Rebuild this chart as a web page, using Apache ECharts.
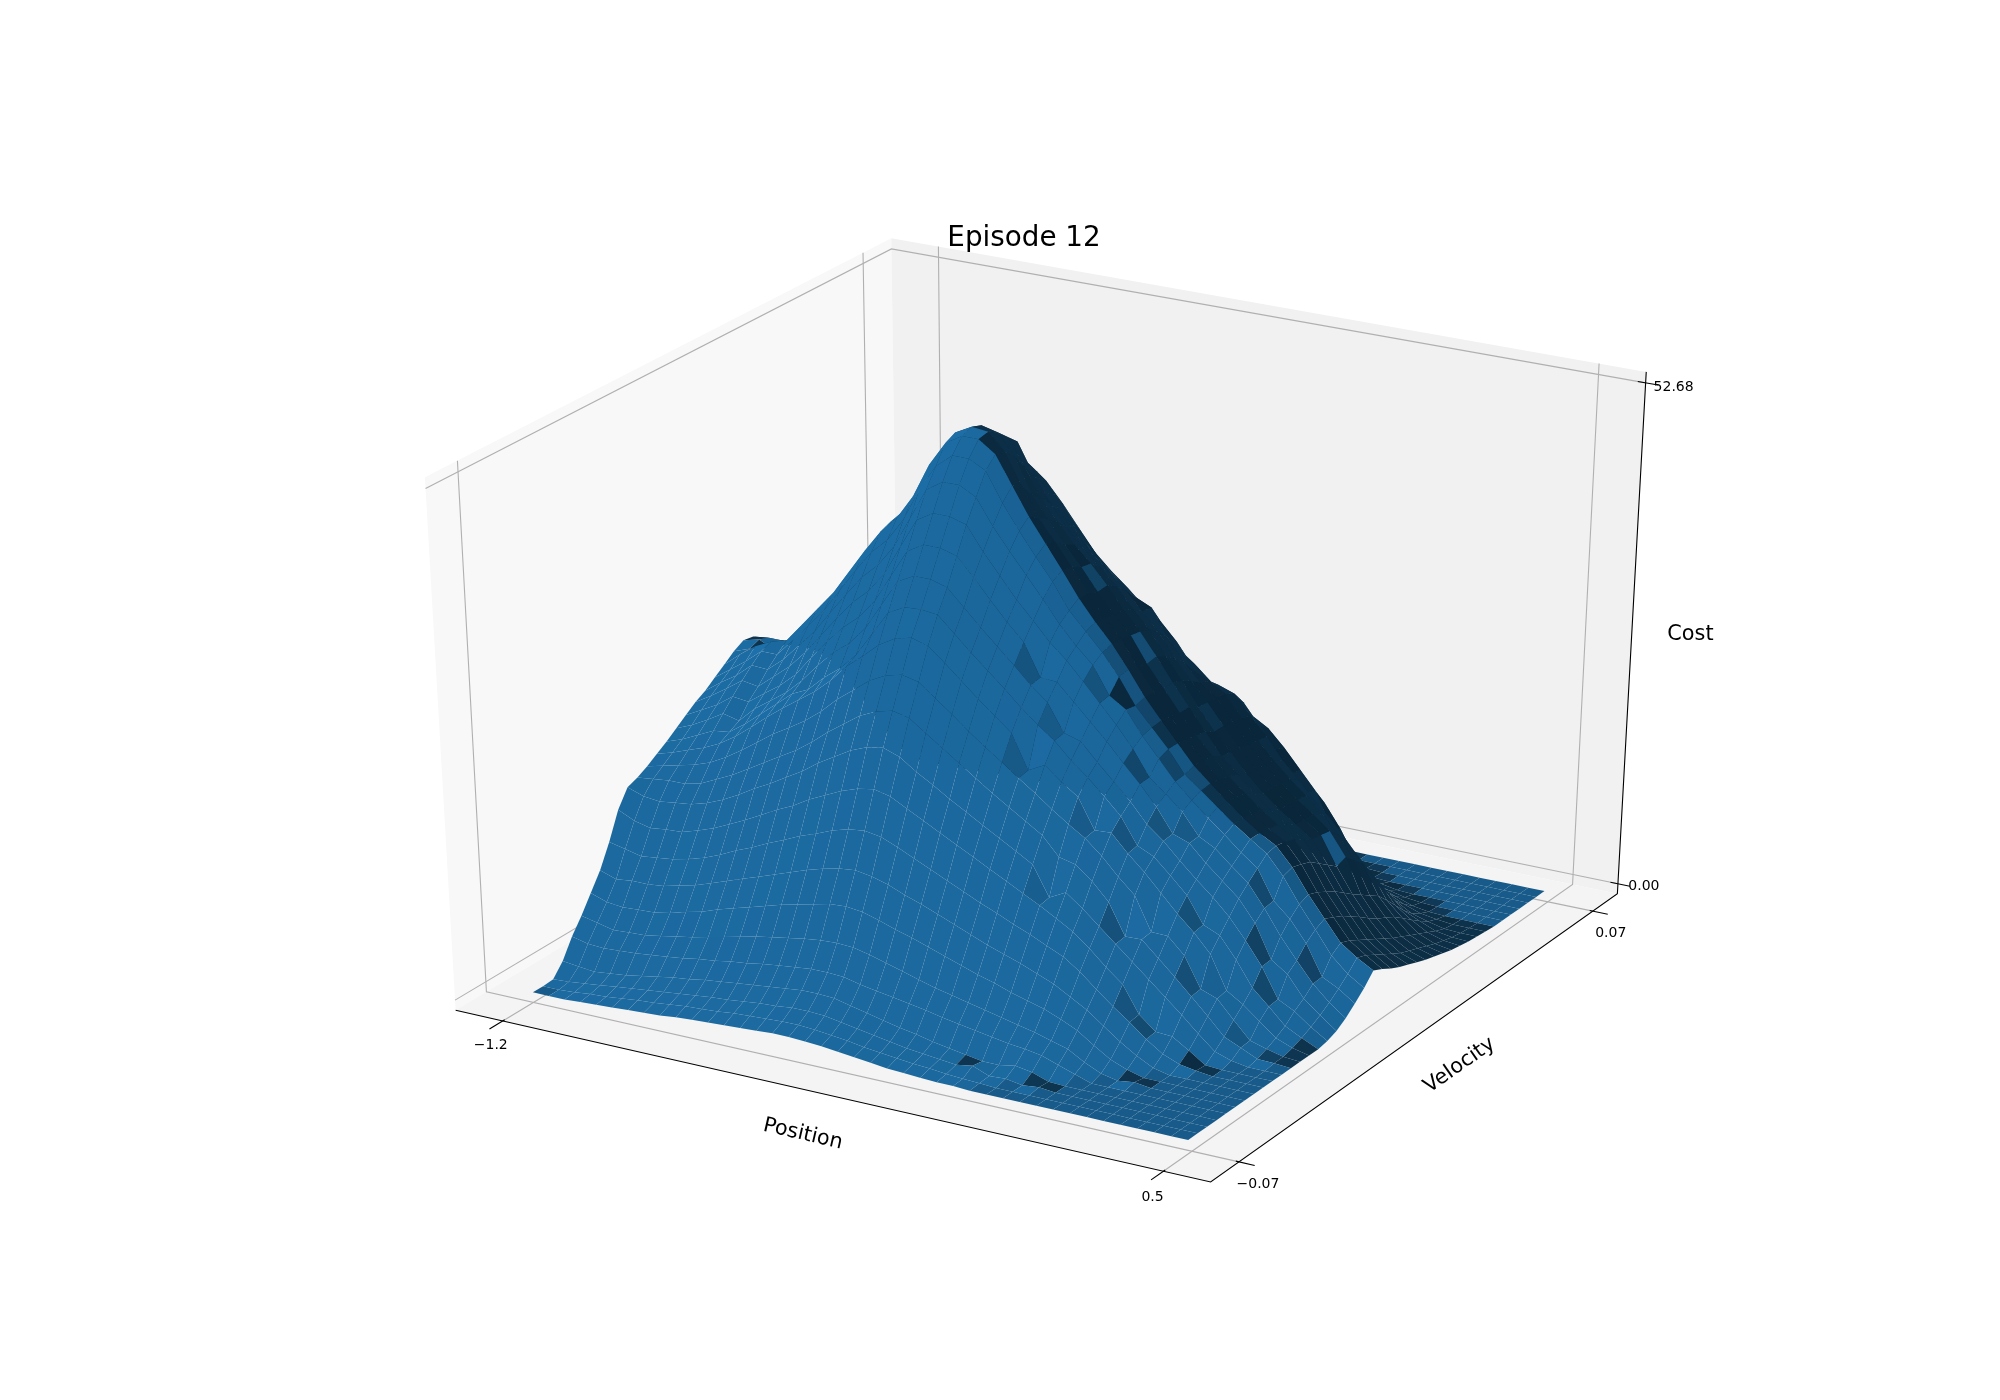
<!DOCTYPE HTML>
<html lang="en">

<head>
	<meta charset="utf-8">
	<title>Episode 12</title>
	<style>
		html, body { margin: 0; background: #fff; }
		#main { width: 2000px; height: 1400px; }
	</style>
</head>

<body>
	<div id="main"></div>
	<script src="https://cdn.jsdelivr.net/npm/echarts@6/dist/echarts.min.js"></script>
	<script>
		var TITLE = 'Episode 12';
		var POSITION_RANGE = [-1.2, 0.5];
		var VELOCITY_RANGE = [-0.07, 0.07];
		var COST_RANGE = [0, 52.68];
		var POSITION_TICKS = ['\u22121.2', '0.5'];
		var VELOCITY_TICKS = ['\u22120.07', '0.07'];
		var COST_TICKS = ['0.00', '52.68'];

		// cost, one row per velocity step, one column per position step
		var COST = [
			[0,0,0,.1,.2,.3,.4,.5,.6,.8,.9,1,1.1,1.2,1.3,1.4,1.4,1.3,1.2,1,.8,.6,.4,.3,.2,.1,.1,0,0,0,0,0,0,0,0,0,0,0,0,0,0],
			[0,0,.1,.3,.4,.6,.8,.9,1.1,1.3,1.4,1.5,1.7,1.8,1.9,2,2,1.9,1.7,1.5,1.2,1,.8,.6,.5,.3,.2,.1,0,0,0,0,0,0,0,0,0,0,0,0,0],
			[.1,.2,.4,.6,.8,1,1.2,1.4,1.6,1.8,2,2.1,2.3,2.5,2.6,2.8,2.8,2.7,2.4,2.1,1.8,1.5,1.2,1,.8,.6,.9,.2,.3,0,.2,0,0,0,0,0,0,0,0,0,0],
			[1.4,1.2,1,1.2,1.4,1.7,2,2.3,2.5,2.8,3,3.2,3.4,3.6,3.8,4,4,3.9,3.5,3.1,2.7,2.3,2,1.6,1.3,1,.7,.7,1,.7,.1,0,0,0,0,0,0,0,0,0,0],
			[3.4,3,2.9,3,3.1,3.3,3.5,3.7,4,4.2,4.5,4.7,5,5.2,5.4,5.6,5.6,5.5,5.1,4.8,4.5,4.2,3.9,3.5,3.2,2.9,2.6,2.3,2.1,1.8,1.2,.6,0,0,0,0,0,0,0,0,0],
			[5,4.6,4.2,4.3,4.4,4.7,5,5.3,5.7,6.1,6.5,6.9,7.2,7.5,7.8,8,8.1,8,7.6,7.1,6.6,6.1,5.6,5.2,4.8,4.4,4,3.6,3.2,2.7,2.2,1.2,.4,0,.25,0,0,0,0,0,0],
			[6.8,6.2,6,6.1,6.2,6.5,7,7.4,8,8.5,9,9.5,10,10.4,10.8,11.2,11.3,11.1,10.6,10,9.5,8.9,8.3,7.7,7.1,6.6,6,5.5,5,4.3,3.5,2.3,1.2,.5,0,0,0,0,0,0,0],
			[8.6,8,8.2,8.2,8.4,8.8,9.2,9.8,10.4,11,11.6,12.2,12.8,13.4,13.9,14.3,14.5,14.2,13.7,13,12.4,11.7,11,10.3,9.6,9,8.4,7.7,7,6,5,3.7,2.4,1.3,.4,0,0,0,0,0,0],
			[11,10.6,10.2,10.4,10.6,11,11.5,12.2,13,13.7,14.5,15.2,16,16.6,17.3,17.8,18,17.7,17,16.2,15.4,14.6,13.8,13,12.3,11.5,10.8,10,9.2,8,6.5,5.1,3.8,2.4,1.2,.5,.2,0,0,0,0],
			[13.8,13,12.6,12.8,12.9,13.4,14,14.8,15.6,16.5,17.4,18.2,19.2,20,20.8,21.4,21.7,21.3,20.4,19.5,18.6,17.7,16.8,15.9,15,14.1,13.2,12.2,11.2,9.8,8.2,6.8,3.95,2.5,2.4,1.3,.1,0,0,0,0],
			[15.6,15,14.8,15,15.2,15.7,16.4,17.3,18.3,19.2,20.2,21.2,22.4,23.4,24.4,25.1,25.4,24.8,23.6,22.6,21.5,20.5,19.5,18.5,17.5,16.5,13.4,14.3,13,11.5,10,8.5,7,5.5,4,2.4,.9,.3,0,0,0],
			[16,16.2,16.4,16.4,16.8,17.6,18.4,19.4,20.4,21.4,22.4,23.6,25,26.2,27.4,28.2,28.6,28.2,27,25.8,24.6,23.4,22.2,21.1,20,18.9,17,16.6,15.2,13.4,10.15,10.2,8.6,7,5.3,3.6,1.8,1,.2,.15,0],
			[16.6,17,17.4,17.8,18.4,19.3,20.4,21.6,22.8,23.8,24.9,26.2,27.8,29.1,30.4,31.3,31.7,31.3,30,28.7,27.3,26,24.8,23.5,22.3,21,19.8,18.7,17.2,15.4,13.8,10.35,10.3,8.6,5.45,4.8,2.9,1.1,.6,.15,0],
			[17.3,17.8,18.4,19,19.8,20.9,22.2,23.6,24.9,26.1,27.3,28.8,30.6,32,33.5,34.5,34.9,34.4,33,31.5,30,28.6,27.2,23.7,24.6,23.2,22,18.9,19,17.2,15.6,13.8,12,10.4,8.5,5,3.9,2.5,1.1,.4,0],
			[18,18.6,19.4,20.2,20.4,21.6,23,24.4,25.8,26.6,28.2,29.5,31.2,33.7,36.2,37.1,37.2,37,35.4,33.8,32.3,30.8,29.2,27.8,26.5,24.8,23.4,21.8,20.1,17.4,16.6,15,13.3,10.55,9.8,7.6,5,3.4,1.7,.8,0],
			[18.8,19.5,20.4,21.4,21,22.6,23.8,25,26.6,28.5,30.2,31.5,33.4,36.1,38.8,39.7,39.7,39.2,37.5,35.8,34.2,32.6,30.9,29.5,26.7,26.2,24.4,22.7,21,19,17.6,15.9,14.3,12.8,11.1,9,6.6,3.5,2.6,1.3,.2],
			[19.6,20.5,21.4,22.6,22.4,23.6,24.8,26.3,28.4,30.4,32.2,33.6,35.6,38.5,41.3,42.3,42.3,41.8,40,38,36.1,34.4,31.1,31,29.3,27.6,25.9,24,22.2,20.2,17.75,17.1,15.4,13.9,12.4,10.2,6.7,5.5,3.3,1.9,.6],
			[20.4,21.4,22.5,23.7,23.4,24.8,26.2,28,30.1,32.2,34.2,35.7,37.8,40.9,43.9,44.9,44.9,44.4,42,39.9,37.8,36,34.1,32.6,30.8,28.9,27,24.9,22.3,20.9,19.4,17.2,16.3,14.8,13.4,11.1,8.5,6.3,4.2,2.6,1.3],
			[21,22.2,23.3,24.7,24.6,26,27.8,29.6,31.9,34.1,36.2,37.8,40,43.2,46.4,47.5,47.5,46.6,44,41.8,39.7,37.6,35.4,33.5,31.9,29.1,28,25.6,23.6,21.6,20,18.5,17.1,15.6,14.3,11.25,9.7,7.5,4.3,3.4,2.2],
			[21.8,23,24.2,25.6,25.6,27.4,29.3,31.2,33.6,36,38.2,39.8,42.2,45.6,48.2,49.6,49.6,48.7,45.8,43.3,41,38.8,36.2,34.4,32.6,30.4,27.8,25.9,24,21.7,20.4,19,17.6,16.4,15.2,13.2,10.6,8.3,5.9,4.3,3.2],
			[22.6,24,25.2,26,26.5,28.5,30.5,32.5,35,37.5,39.8,41.5,44,47.5,50,51,51,49.8,47,44.2,41.8,39.4,36.9,34.8,32.9,30.6,28.1,26,24,22,20.5,19,17.6,16.4,15.4,13.5,11,8.8,6.6,5.4,4.4],
			[23.4,24,24.4,25,26,28.8,30.8,32.8,35.4,37.9,40.2,41.9,44.4,48,50.5,51.4,51.2,49.5,46.4,43.5,41.4,39.2,36.8,34.6,32.8,30.2,28,25.8,23.8,21.9,20.3,18.8,17.4,16.2,15.2,13.2,10.6,8.3,6.2,5,3.9],
			[24,24.4,23.6,25,26,28.5,30.5,32.5,35,37.5,39.8,41.5,44,47.5,50,51,50.6,48.5,45,42.8,40.6,38.6,36.4,34.4,32.6,30,27.8,25.6,23.6,21.8,20,18.6,17.2,16,14.8,12.8,10,7.8,5.6,4.4,3.3],
			[23.8,24,24,24.6,25.4,27.8,29.7,31.7,34.1,36.6,38.8,40.5,42.9,46.3,49,49.9,49.6,47,44,42,40,38.4,36.5,34.3,32.4,30.2,27.8,25.6,23.4,21.2,19.6,18,16.6,15.4,14.2,12,9.4,7.1,5,3.8,2.8],
			[23,23.2,23,23.8,24.6,26.9,28.8,30.7,33,35.4,37.6,39.2,41.6,44.9,48.2,49,48.6,45.5,43,40.8,39,37.4,35.8,33.8,32,29.6,27.4,25,22.8,21,19,17.4,16,14.8,13.6,11.2,8.6,6.4,4.4,3.2,2.4],
			[21.8,22.4,22.4,23.2,24.2,26.4,28,30,32,34.4,36.6,38.6,41,43.4,45.4,47,46,44,41.5,39.5,37.8,36.4,34.8,33,31.2,28.8,26.8,24.9,22.8,20.8,18.9,17.3,15.9,14.7,13.4,10.4,7.8,5.6,3.8,2.6,2],
			[21.2,21.4,21.8,22.6,23.8,25.8,27.5,29.4,31.6,33.6,35.4,37.4,39.8,41.9,43.9,45.2,44.5,42.6,40,38,36.4,35,33.6,32.8,30,27.8,26,24.8,22.6,20.6,18.8,17.2,15.8,14.6,13.2,10.8,7.1,4.9,3.2,2.2,1.6],
			[20.6,20.6,21,22,23.2,24.9,26.6,28.3,30.4,32.3,34,36,38.2,40,41.9,43.2,43,41,38.5,36.6,35,33.6,32,30.8,29,26.4,25.6,24.6,22.4,20.4,18.6,17,15.6,14,12.2,9.8,6.4,4.4,2.7,1.8,1.3],
			[20,19.6,20,20.9,22.1,23.7,25.3,27,29.1,30.8,32.4,34.3,36.3,38.1,39.9,41,41,39,36.5,34.8,33.2,31.8,30.2,28.8,27,25,24.6,24,22,20.2,18,16.3,14.4,12.8,10.8,8.8,5.7,3.8,2.2,1.4,1],
			[19,18.6,19,19.8,21,22.5,24,25.6,27.6,29.2,30.8,32.5,34.5,36.2,37.9,39,39,37,34.8,33,31.6,30,28.2,26.6,25.5,24,23.4,22.5,20.4,18.2,16,14.4,12.6,11,9,7.2,4.6,3,1.7,1,.7],
			[18,17.4,17.8,18.5,19.6,21,22.4,23.9,25.8,27.3,28.7,30.4,32.2,33.7,35.4,36.4,36.6,34.5,32.5,30.8,29.4,27.6,25.8,24,23.5,22.2,21.6,20.5,19.5,17.8,15.8,13.8,10.2,8.6,7,5.5,3.4,2.2,1.2,.7,.5],
			[16.5,15.9,16.1,16.9,17.9,19.2,20.5,21.9,23.6,25,26.2,27.8,29.4,30.8,32.3,33.3,33.7,31.5,29.5,28,26.5,24.8,23,21.2,21,19.8,19.8,18,17.5,15.6,13.8,12,9.6,6.6,5.2,3.8,2.2,1.4,.7,.4,.3],
			[15,14.2,14.4,15,16,17.1,18.2,19.5,21,22.2,23.4,24.7,26.2,27.5,28.8,29.6,30,28,26,24.4,23,21.4,19.6,18,17.6,16.6,16.4,15.5,14.5,13,11.2,9.4,7.2,4.5,3.4,2.2,1.2,.7,.3,.2,.2],
			[13,11.7,11.8,12.4,13.2,14.1,15,16.1,17.3,18.3,19.3,20.4,21.6,22.7,23.7,24.4,24.8,23.5,21.8,20.5,19.2,17.8,16.2,14.8,13.4,12,13,11.2,11,10,8.6,7,5,2.9,2,1.2,.6,.3,.1,.1,.1],
			[11,9.2,9.3,9.8,10.4,11.1,11.8,12.7,13.6,14.4,15.2,16.1,17,17.8,18.7,19.2,19.5,18.5,17.2,16,15,13.8,12.4,11.2,10,8.8,9.5,8,7.4,6.4,5.6,4.4,3,1.6,1,.4,.1,0,0,0,0],
			[9,7,7,7.4,7.8,8.4,9,9.6,10.3,10.9,11.5,12.2,12.9,13.5,14.1,14.6,14.7,14,13,12,11,10,8.9,7.9,7,6,7,5.5,4.2,3.2,2.4,1.7,1.1,.7,.3,.1,0,0,0,0,0],
			[7,5,5,5.3,5.6,6,6.4,6.8,7.4,7.8,8.2,8.7,9.2,9.6,10.1,10.4,10.5,10,9,8.3,7.6,6.8,6,5.2,4.5,3.8,4.4,3.2,2.4,1.6,1.1,.7,.4,.1,0,0,0,0,0,0,0],
			[5,3.2,3.3,3.4,3.6,3.9,4.2,4.4,4.8,5.1,5.3,5.6,6,6.3,6.6,6.8,6.8,6.3,5.8,5.2,4.7,4.1,3.4,2.9,2.4,1.9,2.2,1.6,1.1,.7,.3,.1,0,0,0,0,0,0,0,0,0],
			[3,2,2,2.1,2.2,2.4,2.6,2.7,2.9,3.1,3.3,3.5,3.7,3.9,4,4.2,4.2,3.9,3.5,3,2.7,2.3,1.9,1.5,1.2,.9,.7,.5,.3,.2,.1,0,0,0,0,0,0,0,0,0,0],
			[1.5,1,1,1,1.1,1.2,1.3,1.4,1.5,1.6,1.6,1.7,1.8,1.9,2,2.1,2.1,1.8,1.7,1.5,1.3,1.1,.9,.7,.5,.4,.2,.1,.1,0,0,0,0,0,0,0,0,0,0,0,0],
			[.5,.3,.3,.4,.4,.5,.5,.5,.6,.6,.6,.7,.7,.7,.8,.8,.8,.7,.6,.5,.4,.3,.2,.1,.1,0,0,0,0,0,0,0,0,0,0,0,0,0,0,0,0]
		];

		var rows = COST.length;
		var cols = COST[0].length;
		var dx = (POSITION_RANGE[1] - POSITION_RANGE[0]) / (cols - 1);
		var dy = (VELOCITY_RANGE[1] - VELOCITY_RANGE[0]) / (rows - 1);
		var LIGHT = [-0.6667, -0.6667, 0.3333];
		var BASE = [31, 119, 180];

		// box coords 0..1, same view as elev 30, azim -60, dist 10
		function depth(p) {
			return 10 - (0.433013 * (p[0] - 0.5) - 0.75 * (p[1] - 0.5) + 0.5 * (p[2] - 0.5));
		}
		function project(p) {
			var a = p[0] - 0.5, b = p[1] - 0.5, c = p[2] - 0.5;
			var d = depth(p);
			return [
				1045.5 + 8715 * (0.866025 * a + 0.5 * b) / d,
				694 - 6085 * (-0.25 * a + 0.433013 * b + 0.866025 * c) / d
			];
		}
		function boxX(i) { return 0.065 + 0.87 * i / (cols - 1); }
		function boxY(j) { return 0.065 + 0.87 * j / (rows - 1); }
		function boxZ(z) { return 0.02 + 0.96 * z / COST_RANGE[1]; }
		function vertex(i, j) { return [boxX(i), boxY(j), boxZ(COST[j][i] || 0)]; }

		function cellColor(i, j) {
			var zx = ((COST[j][i + 1] || 0) - (COST[j][i] || 0)) / dx;
			var zy = ((COST[j + 1][i + 1] || 0) - (COST[j][i + 1] || 0)) / dy;
			var len = Math.sqrt(zx * zx + zy * zy + 1);
			var shade = (-zx * LIGHT[0] - zy * LIGHT[1] + LIGHT[2]) / len;
			var f = 0.3 + 0.7 * (shade + 1) / 2;
			return 'rgb(' + BASE.map(function (c) { return Math.round(c * f); }).join(',') + ')';
		}

		var cells = [];
		for (var j = 0; j < rows - 1; j++) {
			for (var i = 0; i < cols - 1; i++) {
				var dep = (depth(vertex(i, j)) + depth(vertex(i + 1, j)) + depth(vertex(i + 1, j + 1)) + depth(vertex(i, j + 1))) / 4;
				cells.push({ value: [i, j], dep: dep });
			}
		}
		cells.sort(function (a, b) { return b.dep - a.dep; });

		var PANES = [
			{ fill: '#f8f8f8', pts: [[0, 0, 0], [0, 1, 0], [0, 1, 1], [0, 0, 1]] },
			{ fill: '#f1f1f1', pts: [[0, 1, 0], [1, 1, 0], [1, 1, 1], [0, 1, 1]] },
			{ fill: '#f4f4f4', pts: [[0, 0, 0], [1, 0, 0], [1, 1, 0], [0, 1, 0]] }
		];

		var GRID = '#b0b0b0';
		var LINES = [];
		[0.065, 0.94].forEach(function (t) {
			LINES.push({ color: GRID, pts: [[t, 0, 0], [t, 1, 0], [t, 1, 1]] });
			LINES.push({ color: '#000', pts: [[t, 0.004, 0], [t, -0.028, 0]] });
		});
		[0.065, 0.935].forEach(function (t) {
			LINES.push({ color: GRID, pts: [[1, t, 0], [0, t, 0], [0, t, 1]] });
			LINES.push({ color: '#000', pts: [[0.996, t, 0], [1.02, t, 0]] });
		});
		[0.02, 0.98].forEach(function (t) {
			LINES.push({ color: GRID, pts: [[0, 0, t], [0, 1, t], [1, 1, t]] });
			LINES.push({ color: '#000', pts: [[0.99, 1, t], [1.016, 1, t]] });
		});
		LINES.push({ color: '#000', pts: [[0, 0, 0], [1, 0, 0], [1, 1, 0], [1, 1, 1]] });

		var LABELS = [
			{ text: POSITION_TICKS[0], at: [0.065, 0, 0], off: [-12, 24], size: 14, rot: 0 },
			{ text: POSITION_TICKS[1], at: [0.935, 0, 0], off: [-7, 27], size: 14, rot: 0 },
			{ text: VELOCITY_TICKS[0], at: [1, 0.065, 0], off: [19, 22], size: 14, rot: 0 },
			{ text: VELOCITY_TICKS[1], at: [1, 0.935, 0], off: [18, 22], size: 14, rot: 0 },
			{ text: COST_TICKS[0], at: [1, 1, 0.02], off: [26, 3], size: 14, rot: 0 },
			{ text: COST_TICKS[1], at: [1, 1, 0.98], off: [28, 5], size: 14, rot: 0 },
			{ text: 'Position', at: [0.5, 0, 0], off: [-22, 40], size: 20.8, rot: -13 },
			{ text: 'Velocity', at: [1, 0.5, 0], off: [38, 33], size: 20.8, rot: 35 },
			{ text: 'Cost', at: [1, 1, 0.5], off: [59, -5], size: 20.8, rot: 0 }
		];

		function customSeries(data, z, renderItem) {
			return {
				type: 'custom',
				coordinateSystem: 'cartesian2d',
				data: data,
				z: z,
				silent: true,
				clip: false,
				animation: false,
				progressive: 0,
				renderItem: renderItem
			};
		}
		function toPixels(api, pts) {
			return pts.map(function (p) { return api.coord(project(p)); });
		}
		function seq(n) {
			var out = [];
			for (var k = 0; k < n; k++) out.push([k, 0]);
			return out;
		}

		var chart = echarts.init(document.getElementById('main'), null, { renderer: 'canvas' });
		chart.setOption({
			animation: false,
			backgroundColor: '#fff',
			title: {
				text: TITLE,
				left: 1019,
				top: 220,
				textAlign: 'center',
				textStyle: { fontFamily: 'DejaVu Sans', fontSize: 27.8, fontWeight: 'normal', color: '#000' }
			},
			grid: { left: 0, right: 0, top: 0, bottom: 0 },
			xAxis: { type: 'value', min: 0, max: 2000, show: false },
			yAxis: { type: 'value', min: 0, max: 1400, inverse: true, show: false },
			series: [
				customSeries(seq(PANES.length), 1, function (params, api) {
					var pane = PANES[params.dataIndex];
					return { type: 'polygon', shape: { points: toPixels(api, pane.pts) }, style: { fill: pane.fill } };
				}),
				customSeries(seq(LINES.length), 2, function (params, api) {
					var line = LINES[params.dataIndex];
					return {
						type: 'polyline',
						shape: { points: toPixels(api, line.pts) },
						style: { stroke: line.color, lineWidth: 1.1, fill: 'none' }
					};
				}),
				customSeries(cells.map(function (c) { return c.value; }), 3, function (params, api) {
					var i = api.value(0), j = api.value(1);
					return {
						type: 'polygon',
						shape: { points: toPixels(api, [vertex(i, j), vertex(i + 1, j), vertex(i + 1, j + 1), vertex(i, j + 1)]) },
						style: { fill: cellColor(i, j), stroke: null }
					};
				}),
				customSeries(seq(LABELS.length), 4, function (params, api) {
					var l = LABELS[params.dataIndex];
					var p = api.coord(project(l.at));
					return {
						type: 'text',
						x: p[0] + l.off[0],
						y: p[1] + l.off[1],
						rotation: l.rot * Math.PI / 180,
						style: {
							text: l.text,
							fill: '#000',
							align: 'center',
							verticalAlign: 'middle',
							font: l.size + 'px "DejaVu Sans"'
						}
					};
				})
			]
		});
	</script>
</body>

</html>
